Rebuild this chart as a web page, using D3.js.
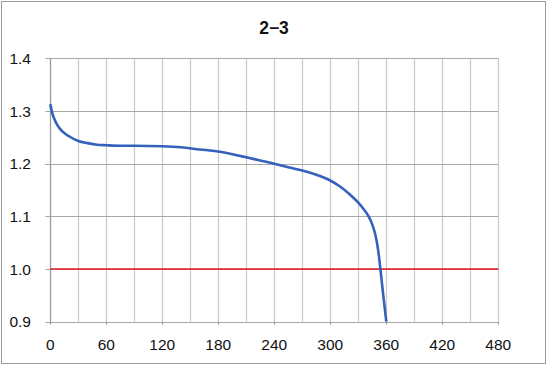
<!DOCTYPE html>
<html><head><meta charset="utf-8">
<script src="https://cdn.jsdelivr.net/npm/d3@7"></script>
<style>html,body{margin:0;padding:0;background:#fff;}svg{display:block;}</style>
</head><body>
<script>
const title = "2\u22123";
const times = [0, 2, 5, 10, 15, 20, 30, 40, 50, 60, 75, 90, 120, 140, 160, 180, 200, 210, 225, 240, 255, 270, 285, 300, 310, 320, 330, 336, 340, 343, 346, 348, 350, 352, 354, 357, 360];
const voltage = [1.313, 1.297, 1.282, 1.267, 1.258, 1.252, 1.243, 1.239, 1.236, 1.235, 1.234, 1.234, 1.233, 1.231, 1.227, 1.223, 1.216, 1.212, 1.206, 1.200, 1.193, 1.187, 1.179, 1.168, 1.157, 1.143, 1.126, 1.113, 1.103, 1.093, 1.079, 1.067, 1.050, 1.026, 0.995, 0.946, 0.9];
const cutoff = 1.0;
const xTicks = [0, 60, 120, 180, 240, 300, 360, 420, 480];
const xGrid = d3.range(0, 481, 30);
const yTicks = [0.9, 1.0, 1.1, 1.2, 1.3, 1.4];

const W = 551, H = 366;
const svg = d3.select("body").append("svg").attr("width", W).attr("height", H);
svg.append("rect").attr("x", 1.5).attr("y", 1.5).attr("width", 544).attr("height", 362)
  .attr("fill", "#fff").attr("stroke", "#9a9a9a").attr("stroke-width", 1);

const x = d3.scaleLinear().domain([0, 480]).range([50.3, 498.3]);
const y = d3.scaleLinear().domain([0.9, 1.4]).range([321.7, 58.3]);
const font = "'Liberation Sans', Arial, sans-serif";

// vertical grid
svg.append("g").selectAll("line").data(xGrid).join("line")
  .attr("x1", d => Math.round(x(d)) + 0.5).attr("x2", d => Math.round(x(d)) + 0.5)
  .attr("y1", y(1.4)).attr("y2", y(0.9))
  .attr("stroke", "#c9c9c9").attr("stroke-width", 1.2);
// horizontal grid
svg.append("g").selectAll("line").data(yTicks).join("line")
  .attr("x1", x(0) - 5).attr("x2", x(480))
  .attr("y1", d => Math.round(y(d)) + 0.5).attr("y2", d => Math.round(y(d)) + 0.5)
  .attr("stroke", "#a8a8a8").attr("stroke-width", 1.2);
// left axis line
svg.append("line").attr("x1", Math.round(x(0)) + 0.5).attr("x2", Math.round(x(0)) + 0.5)
  .attr("y1", y(1.4)).attr("y2", y(0.9)).attr("stroke", "#9a9a9a").attr("stroke-width", 1.2);
// x tick marks
svg.append("g").selectAll("line").data(xTicks).join("line")
  .attr("x1", d => Math.round(x(d)) + 0.5).attr("x2", d => Math.round(x(d)) + 0.5)
  .attr("y1", y(0.9)).attr("y2", y(0.9) + 3)
  .attr("stroke", "#9a9a9a").attr("stroke-width", 1.2);

// labels
svg.append("g").selectAll("text").data(yTicks).join("text")
  .attr("x", 31).attr("y", d => y(d) + 5.7).attr("text-anchor", "end")
  .attr("font-family", font).attr("font-size", 15.5).attr("fill", "#111")
  .text(d => d.toFixed(1));
svg.append("g").selectAll("text").data(xTicks).join("text")
  .attr("x", d => x(d)).attr("y", 350).attr("text-anchor", "middle")
  .attr("font-family", font).attr("font-size", 15.5).attr("fill", "#111")
  .text(d => d);

svg.append("text").attr("x", 274).attr("y", 34).attr("text-anchor", "middle")
  .attr("font-family", font).attr("font-size", 17.5).attr("font-weight", "bold").attr("fill", "#111")
  .text(title);

// cutoff line
svg.append("line").attr("x1", x(0)).attr("x2", x(480))
  .attr("y1", y(cutoff)).attr("y2", y(cutoff))
  .attr("stroke", "#e8141e").attr("stroke-width", 1.6);

// curve
const line = d3.line().x(d => x(d[0])).y(d => y(d[1])).curve(d3.curveMonotoneX);
svg.append("path").datum(times.map((t, i) => [t, voltage[i]]))
  .attr("d", line).attr("fill", "none").attr("stroke", "#3461bb").attr("stroke-width", 2.6)
  .attr("stroke-linejoin", "round");
</script>
</body></html>
